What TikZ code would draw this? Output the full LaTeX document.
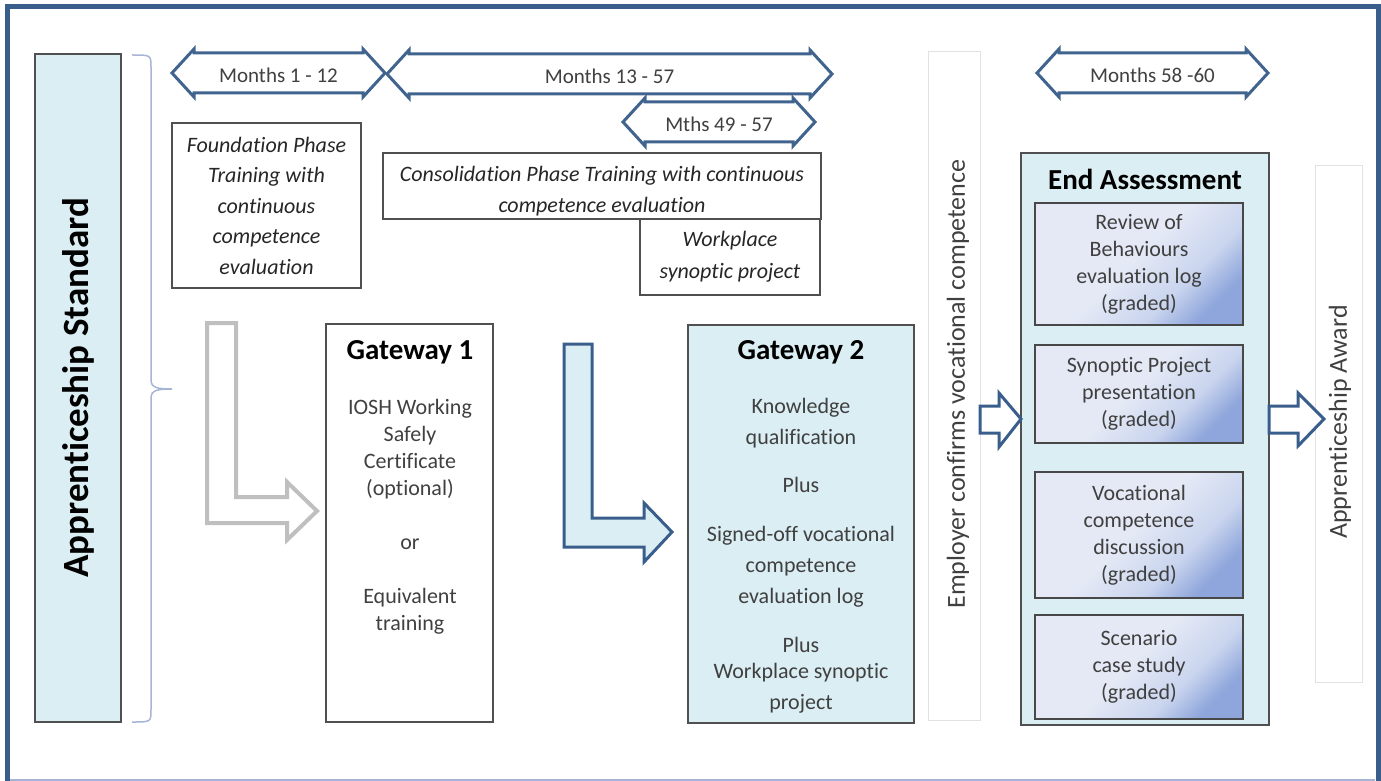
\documentclass[tikz,border=0pt]{standalone}
\usepackage{fontspec}
\setmainfont{Carlito}[Ligatures=NoCommon]
\definecolor{frameblue}{HTML}{3A5E8C}
\definecolor{spanblue}{HTML}{41648F}
\definecolor{paleblue}{HTML}{DAEEF3}
\definecolor{boxgray}{HTML}{505050}
\definecolor{txtgray}{HTML}{404040}
\definecolor{bracecol}{HTML}{A6B4D6}
\definecolor{ghostgray}{HTML}{E2E2E2}
\definecolor{arrowgray}{HTML}{BFBFBF}
\definecolor{lavlight}{HTML}{E4E9F5}
\definecolor{lavmid}{HTML}{C9D4EE}
\definecolor{lavdark}{HTML}{8EA6DB}
\pgfdeclareverticalshading{assess}{100bp}{color(0bp)=(lavdark); color(25bp)=(lavdark); color(36bp)=(lavmid); color(52bp)=(lavlight); color(100bp)=(lavlight)}
\begin{document}
\begin{tikzpicture}[
	x=1pt, y=-1pt,
	box/.style={draw=boxgray, line width=1.5pt, inner sep=0pt, outer sep=0pt, anchor=north west, align=center},
	pale/.style={box, fill=paleblue},
	ghost/.style={box, draw=ghostgray, line width=1pt},
	phase/.style={font=\fontsize{22}{30.5}\selectfont\itshape, text=black!85},
	subbox/.style={box, draw=boxgray!90!black, line width=2pt, shading=assess, shading angle=45, minimum width=208pt, font=\fontsize{22}{27}\selectfont, text=txtgray},
	title/.style={font=\fontsize{29}{32}\selectfont\bfseries, text=black},
	body/.style={align=center, text=txtgray, inner sep=0pt},
	side/.style={body, rotate=90, font=\fontsize{26}{28}\selectfont},
	span/.style={draw=spanblue, line width=3pt, line join=miter, fill=white},
	spanlbl/.style={font=\fontsize{21}{24}\selectfont, text=txtgray, inner sep=0pt},
	blockarr/.style={draw=frameblue, line width=3pt, line join=miter, fill=white}
	]
	\useasboundingbox (0,0) rectangle (1381,781);
	
	% Frame
	\draw[frameblue, line width=5pt] (7.5,781) -- (7.5,6.5) -- (1378,6.5) -- (1378,781);
	\draw[bracecol, line width=2pt] (10,780) -- (1375,780);
	
	% Standard and brace
	\node[pale, minimum width=86pt, minimum height=668pt] (std) at (35,54) {};
	\node[body, rotate=90, text=black, font=\fontsize{37}{40}\selectfont\bfseries] (stdtxt) at (78,388) {Apprenticeship Standard};
	\draw[bracecol, line width=1.5pt] (132,55) .. controls (151,55) .. (151,67) -- (151,380) .. controls (151,388) and (158,389) .. (172,389)
		.. controls (158,389) and (151,390) .. (151,398) -- (151,710) .. controls (151,722) .. (132,722);
	
	% Time spans
	\foreach \nm/\xa/\xb/\yc/\txt in {m1/172/385/73/{Months 1 - 12}, m2/387/832/74/{Months 13 - 57}, m3/623/815/122/{Mths 49 - 57}, m4/1037/1268/73/{Months 58 -60}} {
		\draw[span] (\xa,\yc) -- ({\xa+22},{\yc-24}) -- ({\xa+22},{\yc-20}) -- ({\xb-22},{\yc-20}) -- ({\xb-22},{\yc-24}) -- (\xb,\yc)
			-- ({\xb-22},{\yc+24}) -- ({\xb-22},{\yc+20}) -- ({\xa+22},{\yc+20}) -- ({\xa+22},{\yc+24}) -- cycle;
		\node[spanlbl] (\nm) at ({(\xa+\xb)/2},{\yc+2}) {\txt};
	}
	
	% Training phases
	\node[box, phase, minimum width=189pt, minimum height=165pt] (found) at (172,123) {Foundation Phase\\Training with\\continuous\\competence\\evaluation};
	\node[box, minimum width=438pt, minimum height=66pt] (consol) at (383,153) {};
	\node[body, phase, font=\fontsize{22}{31}\selectfont\itshape] (consoltxt) at (602,191) {Consolidation Phase Training with continuous\\competence evaluation};
	\node[box, phase, minimum width=180pt, minimum height=76pt, font=\fontsize{22}{32}\selectfont\itshape] (synop) at (640,219) {Workplace\\synoptic project};
	
	% Gateways
	\draw[arrowgray, line width=4pt, fill=white] (207,323) -- (236,323) -- (236,497) -- (287,497) -- (287,482) -- (317,511) -- (287,540) -- (287,523) -- (207,523) -- cycle;
	\node[box, minimum width=167pt, minimum height=398pt] (gw1) at (326,324) {};
	\node[title] (gw1t) at (410,352) {Gateway 1};
	\node[body, font=\fontsize{22}{27}\selectfont] (gw1b) at (410,516.5) {IOSH Working\\Safely\\Certificate\\(optional)\\[27pt]or\\[27pt]Equivalent\\training};
	
	\draw[frameblue, line width=3pt, fill=paleblue] (564,344) -- (592,344) -- (592,518) -- (644,518) -- (644,503) -- (672,532) -- (644,562) -- (644,547) -- (564,547) -- cycle;
	\node[pale, minimum width=226pt, minimum height=398pt] (gw2) at (688,325) {};
	\node[title] (gw2t) at (801,352) {Gateway 2};
	\node[body, font=\fontsize{22}{31}\selectfont] (gw2b) at (801,556) {Knowledge\\qualification\\[17pt]Plus\\[18pt]Signed-off vocational\\competence\\evaluation log\\[18pt]Plus\\[-5pt]Workplace synoptic\\project};
	
	% Employer sign-off
	\node[ghost, minimum width=52pt, minimum height=668pt] (emp) at (928,52) {};
	\node[side] (emptxt) at (958,384) {Employer confirms vocational competence};
	
	% End assessment
	\node[pale, minimum width=248pt, minimum height=572pt] (ea) at (1021,153) {};
	\node[title] (eat) at (1145,179) {End Assessment};
	\foreach \n/\yt/\h/\txt in {1/203/122/{Review of\\Behaviours\\evaluation log\\(graded)}, 2/345/98/{Synoptic Project\\presentation\\(graded)}, 3/472/126/{Vocational\\competence\\discussion\\(graded)}, 4/615/104/{Scenario\\case study\\(graded)}} {
		\node[subbox, minimum height=\h pt] (ea\n) at (1035,\yt) {\txt};
	}
	
	% Award
	\node[ghost, minimum width=47pt, minimum height=517pt] (award) at (1315,165) {};
	\node[side, font=\fontsize{26}{28}\selectfont] (awardtxt) at (1340,422) {Apprenticeship Award};
	
	% Block arrows
	\draw[blockarr] (emp.east |- 0,406) -- ++(19,0) -- ++(0,-13) -- (ea.west |- 0,419) -- ++(-22,28) -- ++(0,-14) -- (emp.east |- 0,433) -- cycle;
	\draw[blockarr] (ea.east |- 0,406) -- ++(29,0) -- ++(0,-13) -- ++(26,26) -- ++(-26,27) -- ++(0,-13) -- (ea.east |- 0,433) -- cycle;
\end{tikzpicture}
\end{document}
